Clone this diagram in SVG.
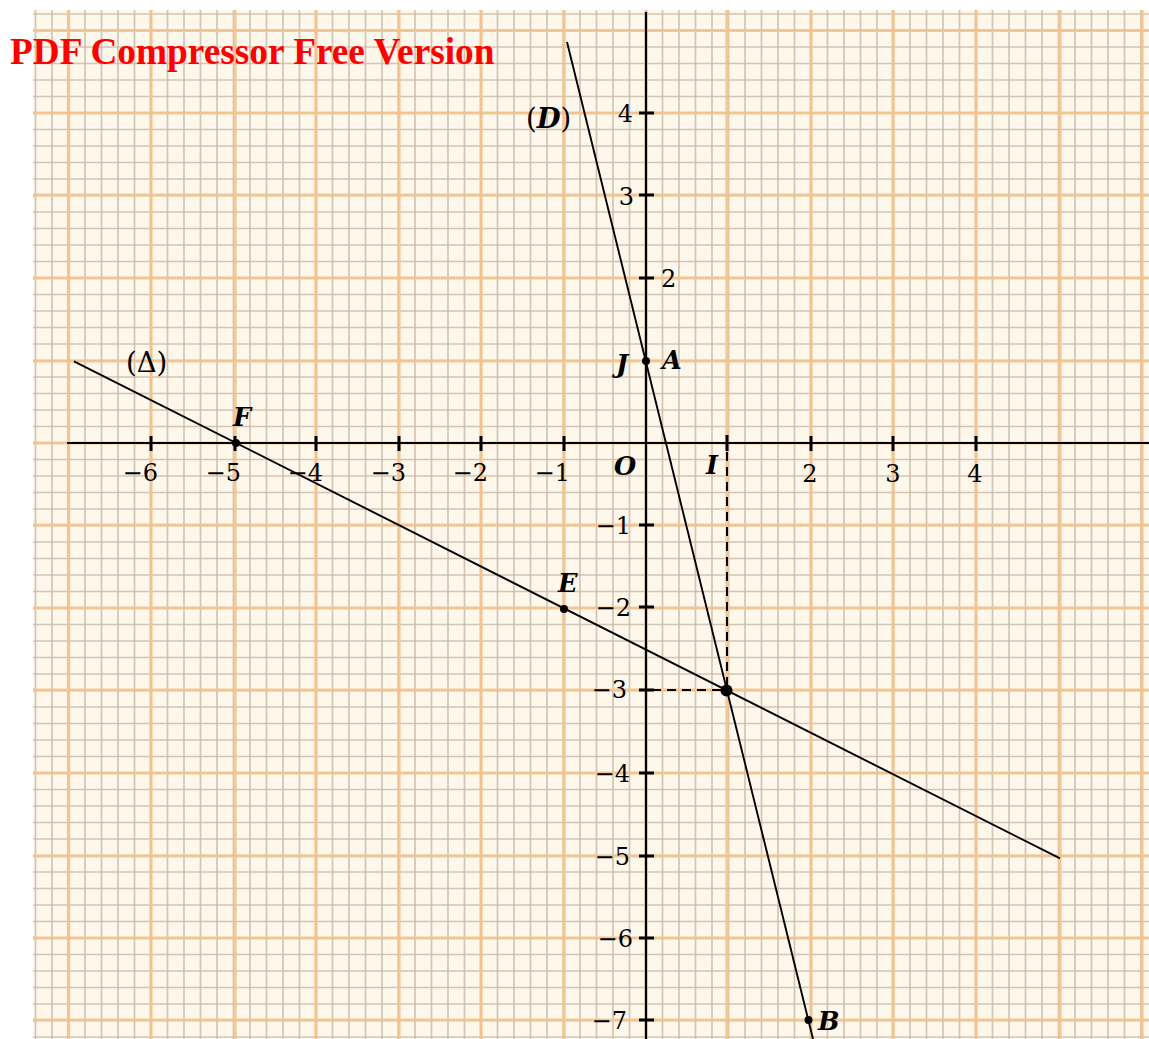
<svg xmlns="http://www.w3.org/2000/svg" width="1149" height="1039" viewBox="0 0 1149 1039">
<style>
.minor{fill:none;stroke:#c8b8a4;stroke-width:1.7;stroke-opacity:.8}
.major{fill:none;stroke:#f3c28e;stroke-width:3.2;stroke-opacity:.9}
.axis{stroke:#000;stroke-width:2.2;fill:none}
.tick{stroke:#000;stroke-width:3;fill:none}
.num{font-family:"DejaVu Serif","Liberation Serif",serif;font-size:24px;fill:#000}
.pt{font-family:"DejaVu Serif","Liberation Serif",serif;font-size:25.5px;font-weight:bold;font-style:italic;fill:#000}
.lbl{font-family:"DejaVu Serif","Liberation Serif",serif;font-size:27.5px;fill:#000}
.line{stroke:#000;stroke-width:1.9;fill:none}
.dash{stroke:#000;stroke-width:2;stroke-dasharray:9 6;fill:none}
.dot{fill:#000}
.wm{font-family:"Liberation Serif",serif;font-weight:bold;font-size:37.3px;fill:#f00}
</style>
<rect x="0" y="0" width="1149" height="1039" fill="#fff"/>
<g id="paper">
<rect x="33" y="10" width="1116" height="1029" fill="#fef7ec"/>
<path class="minor" d="M35.5 10v1029m16.5-1029v1029m16.5-1029v1029m16.5-1029v1029m16.5-1029v1029m16.5-1029v1029m16.5-1029v1029m16.5-1029v1029m16.5-1029v1029m16.5-1029v1029m16.5-1029v1029m16.5-1029v1029m16.5-1029v1029m16.5-1029v1029m16.5-1029v1029m16.5-1029v1029m16.5-1029v1029m16.5-1029v1029m16.5-1029v1029m16.5-1029v1029m16.5-1029v1029m16.5-1029v1029m16.5-1029v1029m16.5-1029v1029m16.5-1029v1029m16.5-1029v1029m16.5-1029v1029m16.5-1029v1029m16.5-1029v1029m16.5-1029v1029m16.5-1029v1029m16.5-1029v1029m16.5-1029v1029m16.5-1029v1029m16.5-1029v1029m16.5-1029v1029m16.5-1029v1029m16.5-1029v1029m16.5-1029v1029m16.5-1029v1029m16.5-1029v1029m16.5-1029v1029m16.5-1029v1029m16.5-1029v1029m16.5-1029v1029m16.5-1029v1029m16.5-1029v1029m16.5-1029v1029m16.5-1029v1029m16.5-1029v1029m16.5-1029v1029m16.5-1029v1029m16.5-1029v1029m16.5-1029v1029m16.5-1029v1029m16.5-1029v1029m16.5-1029v1029m16.5-1029v1029m16.5-1029v1029m16.5-1029v1029m16.5-1029v1029m16.5-1029v1029m16.5-1029v1029m16.5-1029v1029m16.5-1029v1029m16.5-1029v1029m16.5-1029v1029m16.5-1029v1029m16.5-1029v1029"/>
<path class="minor" d="M33 14h1116m-1116 16.5h1116m-1116 16.5h1116m-1116 16.5h1116m-1116 16.5h1116m-1116 16.5h1116m-1116 16.5h1116m-1116 16.5h1116m-1116 16.5h1116m-1116 16.5h1116m-1116 16.5h1116m-1116 16.5h1116m-1116 16.5h1116m-1116 16.5h1116m-1116 16.5h1116m-1116 16.5h1116m-1116 16.5h1116m-1116 16.5h1116m-1116 16.5h1116m-1116 16.5h1116m-1116 16.5h1116m-1116 16.5h1116m-1116 16.5h1116m-1116 16.5h1116m-1116 16.5h1116m-1116 16.5h1116m-1116 16.5h1116m-1116 16.5h1116m-1116 16.5h1116m-1116 16.5h1116m-1116 16.5h1116m-1116 16.5h1116m-1116 16.5h1116m-1116 16.5h1116m-1116 16.5h1116m-1116 16.5h1116m-1116 16.5h1116m-1116 16.5h1116m-1116 16.5h1116m-1116 16.5h1116m-1116 16.5h1116m-1116 16.5h1116m-1116 16.5h1116m-1116 16.5h1116m-1116 16.5h1116m-1116 16.5h1116m-1116 16.5h1116m-1116 16.5h1116m-1116 16.5h1116m-1116 16.5h1116m-1116 16.5h1116m-1116 16.5h1116m-1116 16.5h1116m-1116 16.5h1116m-1116 16.5h1116m-1116 16.5h1116m-1116 16.5h1116m-1116 16.5h1116m-1116 16.5h1116m-1116 16.5h1116m-1116 16.5h1116m-1116 16.5h1116m-1116 16.5h1116m-1116 16.5h1116"/>
<path class="major" d="M68.5 10V1039M151 10V1039M235 10V1039M316 10V1039M399 10V1039M481 10V1039M564 10V1039M646 10V1039M727 10V1039M811 10V1039M893 10V1039M976 10V1039M1060 10V1039M1142 10V1039M33 30.5H1149M33 113H1149M33 195H1149M33 278H1149M33 361H1149M33 443H1149M33 525H1149M33 608H1149M33 690H1149M33 773H1149M33 856H1149M33 938H1149M33 1020H1149"/>
</g>
<g id="axes">
<path class="axis" d="M67 443H1149M646 12V1039"/>
<path class="tick" d="M151 436v15M235 436v15M316 436v15M399 436v15M481 436v15M564 436v15M727 435v16M811 436v15M893 436v15M976 436v15M639 113h15M639 195h15M639 278h15M639 525h15M639 607h15M639 690h15M639 773h15M639 856h15M639 938h15M639 1020h15"/>
<g class="num">
<text x="158" y="481" text-anchor="end">−6</text>
<text x="241" y="481" text-anchor="end">−5</text>
<text x="323" y="481" text-anchor="end">−4</text>
<text x="406" y="481" text-anchor="end">−3</text>
<text x="488" y="481" text-anchor="end">−2</text>
<text x="570" y="481" text-anchor="end">−1</text>
<text x="810" y="482" text-anchor="middle">2</text>
<text x="893" y="482" text-anchor="middle">3</text>
<text x="975" y="482" text-anchor="middle">4</text>
<text x="633" y="122" text-anchor="end">4</text>
<text x="634" y="205" text-anchor="end">3</text>
<text x="661" y="287">2</text>
<text x="631" y="534" text-anchor="end">−1</text>
<text x="631" y="616" text-anchor="end">−2</text>
<text x="627" y="698" text-anchor="end">−3</text>
<text x="630" y="782" text-anchor="end">−4</text>
<text x="630" y="865" text-anchor="end">−5</text>
<text x="633" y="947" text-anchor="end">−6</text>
<text x="627" y="1029" text-anchor="end">−7</text>
</g>
</g>
<g id="connectors">
<path id="line-D" class="line" d="M567 42L813 1039"/>
<path id="line-Delta" class="line" d="M74 361.3L1060 858.4"/>
<path id="dash-h" class="dash" d="M652 690H726"/>
<path id="dash-v" class="dash" d="M727 452V690"/>
</g>
<g id="label-D"><text class="lbl" x="526" y="128">(<tspan font-weight="bold" font-style="italic">D</tspan>)</text></g>
<g id="label-Delta"><text class="lbl" x="126" y="372">(Δ)</text></g>
<g id="point-A"><circle class="dot" cx="646" cy="361" r="4"/><text class="pt" x="662" y="369">A</text></g>
<g id="point-J"><text class="pt" x="616" y="373">J</text></g>
<g id="point-O"><text class="pt" x="614" y="475">O</text></g>
<g id="point-I"><text class="pt" x="706" y="474">I</text></g>
<g id="point-F"><circle class="dot" cx="236" cy="443" r="4"/><text class="pt" x="233" y="426">F</text></g>
<g id="point-E"><circle class="dot" cx="564" cy="609" r="4"/><text class="pt" x="558" y="592">E</text></g>
<g id="point-B"><circle class="dot" cx="808.5" cy="1020" r="4"/><text class="pt" x="818" y="1030">B</text></g>
<g id="point-K"><circle class="dot" cx="726.5" cy="690.5" r="6"/></g>
<g id="watermark"><text class="wm" x="10" y="64">PDF Compressor Free Version</text></g>
</svg>
